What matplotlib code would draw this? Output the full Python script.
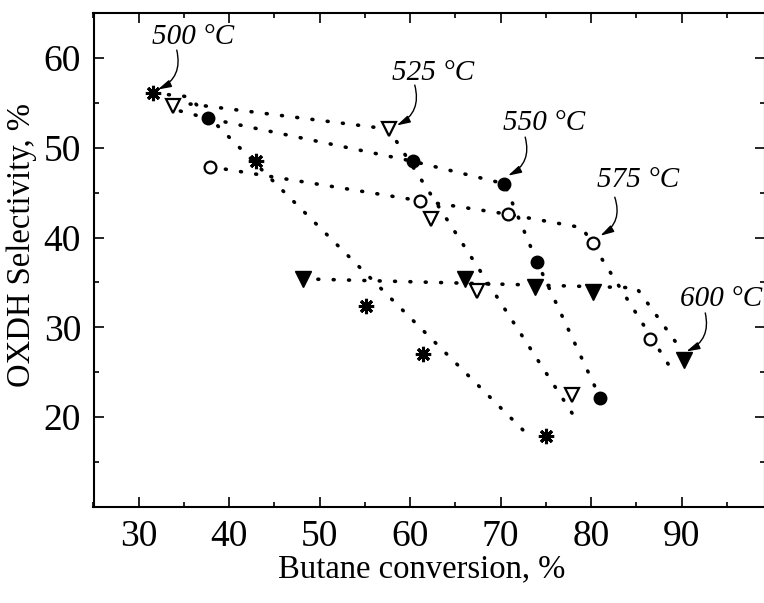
import matplotlib
matplotlib.use("Agg")
import matplotlib.pyplot as plt
from matplotlib.ticker import MultipleLocator

plt.rcParams['font.family'] = ['Liberation Serif', 'DejaVu Serif']

# butane conversion (%) and OXDH selectivity (%) at 500-600 C for each sample
conv_star = [31.6, 43.0, 55.1, 61.4, 75.0]
sel_star = [56.1, 48.5, 32.4, 27.0, 17.9]
conv_tri_open = [33.8, 57.6, 62.3, 67.4, 77.9]
sel_tri_open = [54.7, 52.1, 42.1, 34.0, 22.4]
conv_dot = [37.6, 60.3, 70.4, 74.0, 81.0]
sel_dot = [53.3, 48.5, 46.0, 37.3, 22.1]
conv_ring = [37.9, 61.1, 70.8, 80.2, 86.5]
sel_ring = [47.9, 44.1, 42.6, 39.4, 28.7]
conv_tri = [48.1, 66.1, 73.8, 80.2, 90.2]
sel_tri = [35.4, 35.4, 34.5, 33.9, 26.3]

# hand-drawn trend lines (dotted)
trend_star_x = [31.6, 35.5, 73.0]
trend_star_y = [56.1, 55.7, 18.0]
trend_tri_open_x = [34.0, 57.6, 77.9]
trend_tri_open_y = [55.1, 52.1, 20.4]
trend_dot_x = [34.6, 37.6, 60.3, 70.4, 74.0, 81.0]
trend_dot_y = [54.1, 53.3, 48.5, 46.0, 37.3, 22.1]
trend_ring_x = [37.9, 61.1, 70.8, 79.0, 88.5]
trend_ring_y = [47.9, 44.1, 42.6, 41.1, 25.9]
trend_tri_x = [48.1, 85.0, 89.8]
trend_tri_y = [35.4, 34.4, 27.7]

# temperature labels: text position, arrow start, arrow tip
temp_labels = ['500 °C', '525 °C', '550 °C', '575 °C', '600 °C']
label_xy = [(36.05, 62.4), (62.5, 58.3), (74.8, 52.8), (85.2, 46.4), (94.3, 33.2)]
arrow_from = [(34.2, 60.9), (60.5, 57.0), (72.7, 51.2), (82.6, 44.5), (92.6, 31.6)]
arrow_to = [(32.1, 56.5), (58.5, 52.5), (70.8, 46.9), (81.0, 40.2), (90.5, 27.3)]

fig = plt.figure(figsize=(7.64, 6.03), dpi=100)
ax = fig.add_axes([93.5 / 764, 96.3 / 603, 671.5 / 764, 493.4 / 603])

dotted = dict(color='black', lw=2.6, linestyle=(0, (0.25, 4.0)),
              dash_capstyle='round', zorder=1)
for tx, ty in [(trend_star_x, trend_star_y), (trend_tri_open_x, trend_tri_open_y),
               (trend_dot_x, trend_dot_y), (trend_ring_x, trend_ring_y),
               (trend_tri_x, trend_tri_y)]:
    ax.plot(tx, ty, **dotted)

ax.plot(conv_star, sel_star, ls='none', marker=(8, 2, 0), ms=11, mew=2.2,
        color='black', zorder=3)
ax.plot(conv_tri_open, sel_tri_open, ls='none', marker='v', ms=9.5, mew=1.6,
        mfc='white', mec='black', zorder=3)
ax.plot(conv_dot, sel_dot, ls='none', marker='o', ms=9, color='black', zorder=3)
ax.plot(conv_ring, sel_ring, ls='none', marker='o', ms=8.5, mew=1.6,
        mfc='white', mec='black', zorder=3)
ax.plot(conv_tri, sel_tri, ls='none', marker='v', ms=11, color='black', zorder=3)

for lab, pos, start, tip in zip(temp_labels, label_xy, arrow_from, arrow_to):
    ax.text(pos[0], pos[1], lab, fontsize=21, style='italic', ha='center', va='center')
    ax.annotate('', xy=tip, xytext=start,
                arrowprops=dict(arrowstyle='-|>,head_length=0.8,head_width=0.22',
                                connectionstyle='arc3,rad=-0.4', color='black',
                                lw=1.0, shrinkA=0, shrinkB=0))

ax.set_xlim(25, 99.2)
ax.set_ylim(10, 65)
ax.set_xticks([30, 40, 50, 60, 70, 80, 90])
ax.set_yticks([20, 30, 40, 50, 60])
ax.xaxis.set_minor_locator(MultipleLocator(5))
ax.yaxis.set_minor_locator(MultipleLocator(5))
ax.tick_params(which='both', direction='in', top=True, right=True, width=1.2,
               labelsize=27)
ax.tick_params(which='major', length=7, pad=9)
ax.tick_params(which='minor', length=3.5)
for sp in ax.spines.values():
    sp.set_linewidth(1.5)

ax.set_xlabel('Butane conversion, %', fontsize=23.5)
ax.set_ylabel('OXDH Selectivity, %', fontsize=23.5)
ax.xaxis.set_label_coords(0.489, -0.095)
ax.yaxis.set_label_coords(-0.084, 0.53)

fig.savefig('out.png', dpi=100, facecolor='white')
